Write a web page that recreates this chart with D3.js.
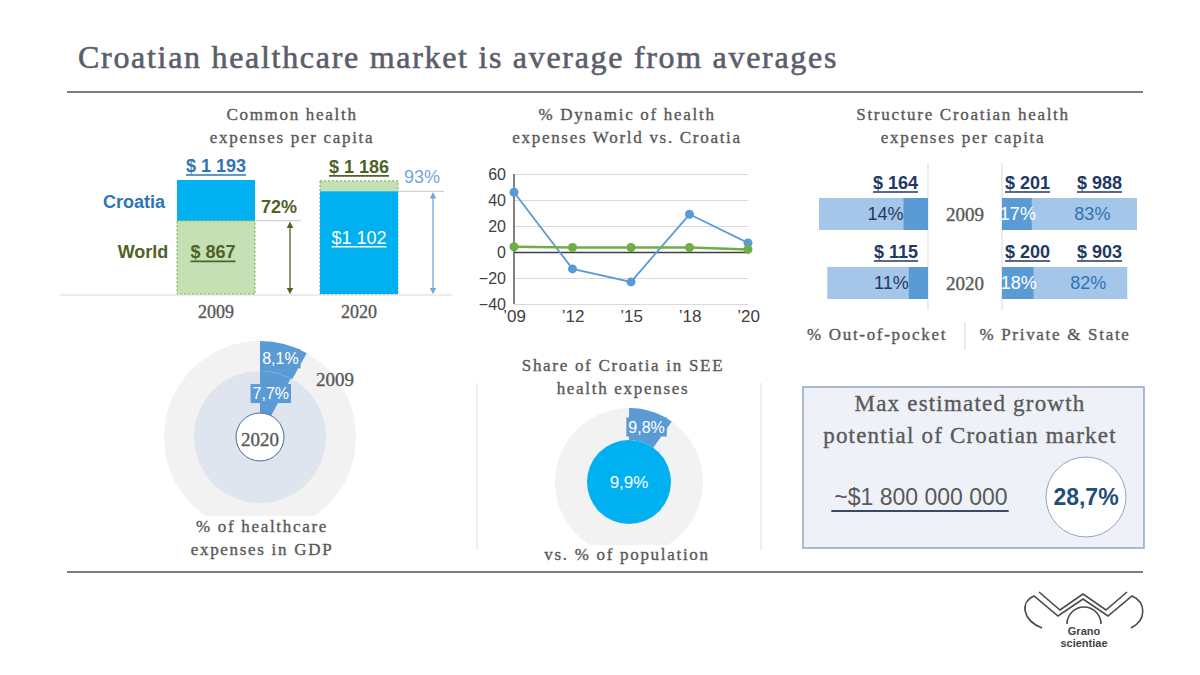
<!DOCTYPE html>
<html>
<head>
<meta charset="utf-8">
<script src="https://cdn.jsdelivr.net/npm/d3@7"></script>
<style>
  body { margin: 0; background: #fff; }
  svg { display: block; }
  .serif { font-family: "Liberation Serif", "DejaVu Serif", serif; fill: #595959; stroke: #595959; stroke-width: 0.35; }
  .sans { font-family: "Liberation Sans", Arial, sans-serif; }
</style>
</head>
<body>
<div class="chart"></div>
<script>
// ---- data ----
const barYears = ["2009", "2020"];
const croatiaPerCapita = [1193, 1102];
const worldPerCapita = [867, 1186];
const barRatioPct = [72, 93];

const dynTicks = ["\u201909", "\u201912", "\u201915", "\u201918", "\u201920"];
const croatiaDyn = [46, -13, -23, 29, 7];
const worldDyn = [4, 3.5, 3.5, 3.5, 2];

const structYears = ["2009", "2020"];
const outOfPocketUsd = [164, 115];
const outOfPocketPct = [14, 11];
const privateUsd = [201, 200];
const privatePct = [17, 18];
const stateUsd = [988, 903];
const statePct = [83, 82];

const gdpYears = ["2009", "2020"];
const gdpShare = [8.1, 7.7];

const seeHealthShare = 9.8;
const seePopShare = 9.9;

const growthUsd = 1800000000;
const growthPct = 28.7;

// ---- helpers ----
const W = 1200, H = 675;
const comma = v => d3.format(".1f")(v).replace(".", ",") + "%";
const spaced = v => d3.format(",")(v).replace(/,/g, " ");

const svg = d3.select(".chart").append("svg")
    .attr("width", W)
    .attr("height", H);

const defs = svg.append("defs");
function arrowMarker(id, color) {
    defs.append("marker")
        .attr("id", id)
        .attr("viewBox", "0 0 10 10")
        .attr("refX", 5).attr("refY", 5)
        .attr("markerWidth", 5).attr("markerHeight", 5)
        .attr("orient", "auto-start-reverse")
        .append("path")
        .attr("d", "M0,0L10,5L0,10z")
        .attr("fill", color);
}
arrowMarker("arrGreen", "#4f6228");
arrowMarker("arrBlue", "#6fa8dc");

function underline(sel, color, w) {
    sel.each(function() {
        const b = this.getBBox();
        d3.select(this.parentNode).append("line")
            .attr("x1", b.x).attr("x2", b.x + b.width)
            .attr("y1", +d3.select(this).attr("y") + 3)
            .attr("y2", +d3.select(this).attr("y") + 3)
            .attr("stroke", color)
            .attr("stroke-width", w || 1.6);
    });
}

function titleText(g, lines, x, y0, dy, size, spacing) {
    g.append("text")
        .attr("class", "serif")
        .attr("text-anchor", "middle")
        .attr("font-size", size)
        .attr("letter-spacing", spacing)
        .selectAll("tspan")
        .data(lines)
        .join("tspan")
        .attr("x", x)
        .attr("y", (d, i) => y0 + i * dy)
        .text(d => d);
}

// ---- header ----
svg.append("text")
    .attr("class", "serif")
    .attr("x", 78).attr("y", 68)
    .attr("font-size", 32)
    .attr("letter-spacing", 1.7)
    .style("fill", "#5a5e6b")
    .style("stroke", "#5a5e6b")
    .style("stroke-width", 0.6)
    .text("Croatian healthcare market is average from averages");

svg.append("line")
    .attr("x1", 67).attr("x2", 1143)
    .attr("y1", 92).attr("y2", 92)
    .attr("stroke", "#4d525e").attr("stroke-width", 1.6);

svg.append("line")
    .attr("x1", 67).attr("x2", 1143)
    .attr("y1", 572).attr("y2", 572)
    .attr("stroke", "#4d525e").attr("stroke-width", 1.6);

// ---- panel 1: per capita bars ----
const p1 = svg.append("g");
titleText(p1, ["Common health", "expenses per capita"], 292, 120, 23, 17, 1.7);

const bw = 78;
const xBar = d3.scalePoint().domain(barYears).range([216, 359]);
const yBar = d3.scaleLinear().domain([280, 1193]).range([294, 180]);

p1.append("line")
    .attr("x1", 60).attr("x2", 452)
    .attr("y1", yBar(280) + 1).attr("y2", yBar(280) + 1)
    .attr("stroke", "#d9d9d9");

const barRows = barYears.map((y, i) => ({
    year: y, croatia: croatiaPerCapita[i], world: worldPerCapita[i], pct: barRatioPct[i]
}));

const blueFill = "#00b0f0";
const greenFill = "#c5e0b4";
const darkGreen = "#4f6228";
const midBlue = "#2e75b6";

barRows.forEach((d, i) => {
    const x0 = xBar(d.year) - bw / 2;
    const big = d.croatia > d.world ? "croatia" : "world";
    const small = big === "croatia" ? "world" : "croatia";
    [big, small].forEach(k => {
        const rect = p1.append("rect")
            .attr("x", x0).attr("width", bw)
            .attr("y", yBar(d[k]))
            .attr("height", yBar(280) - yBar(d[k]));
        if (k === "croatia") rect.attr("fill", blueFill);
        else rect.attr("fill", greenFill).attr("stroke", "#70ad47")
            .attr("stroke-dasharray", "2,2").attr("stroke-width", 1);
    });

    // top label
    const topCol = big === "croatia" ? midBlue : darkGreen;
    const topLab = p1.append("text")
        .attr("class", "sans")
        .attr("x", xBar(d.year)).attr("y", yBar(d[big]) - 8)
        .attr("text-anchor", "middle")
        .attr("font-size", 18).attr("font-weight", "bold")
        .attr("fill", topCol)
        .text("$ " + spaced(d[big]));
    underline(topLab, topCol);

    // inner label
    const inCol = small === "croatia" ? "#fff" : darkGreen;
    const mid = (yBar(d[small]) + yBar(280)) / 2;
    const inLab = p1.append("text")
        .attr("class", "sans")
        .attr("x", xBar(d.year) - (small === "world" ? 3 : 0)).attr("y", mid + 1)
        .attr("text-anchor", "middle")
        .attr("font-size", 18).attr("font-weight", small === "world" ? "bold" : "normal")
        .attr("fill", inCol)
        .text(small === "world" ? "$ " + spaced(d[small]) : "$" + spaced(d[small]));
    underline(inLab, inCol);

    // ratio line, arrow, percent
    const col = i === 0 ? darkGreen : "#6fa8dc";
    const yr = yBar(d[small]);
    p1.append("line")
        .attr("x1", x0 + bw).attr("x2", x0 + bw + 46)
        .attr("y1", yr).attr("y2", yr)
        .attr("stroke", "#c8c8c8");
    p1.append("line")
        .attr("x1", x0 + bw + 35).attr("x2", x0 + bw + 35)
        .attr("y1", yr + 4).attr("y2", yBar(280) - 3)
        .attr("stroke", col).attr("stroke-width", 1.3)
        .attr("marker-start", i === 0 ? "url(#arrGreen)" : "url(#arrBlue)")
        .attr("marker-end", i === 0 ? "url(#arrGreen)" : "url(#arrBlue)");
    p1.append("text")
        .attr("class", "sans")
        .attr("x", x0 + bw + 24).attr("y", yr - 8)
        .attr("text-anchor", "middle")
        .attr("font-size", 18).attr("font-weight", i === 0 ? "bold" : "normal")
        .attr("fill", col)
        .text(d.pct + "%");
});

// legend-like labels
p1.append("text").attr("class", "sans")
    .attr("x", 134).attr("y", (yBar(croatiaPerCapita[0]) + yBar(worldPerCapita[0])) / 2 + 8)
    .attr("text-anchor", "middle").attr("font-size", 18).attr("font-weight", "bold")
    .attr("fill", midBlue).text("Croatia");
p1.append("text").attr("class", "sans")
    .attr("x", 143).attr("y", (yBar(worldPerCapita[0]) + yBar(280)) / 2 + 1)
    .attr("text-anchor", "middle").attr("font-size", 18).attr("font-weight", "bold")
    .attr("fill", darkGreen).text("World");

p1.selectAll(".yr")
    .data(barYears)
    .join("text")
    .attr("class", "serif yr")
    .attr("x", d => xBar(d)).attr("y", 318)
    .attr("text-anchor", "middle")
    .attr("font-size", 18)
    .text(d => d);

// ---- panel 2: dynamic line chart ----
const p2 = svg.append("g");
titleText(p2, ["% Dynamic of health", "expenses World vs. Croatia"], 627, 120, 23, 17, 1.7);

const xL = d3.scalePoint().domain(dynTicks).range([514, 748]);
const yL = d3.scaleLinear().domain([-40, 60]).range([304, 174]);

const yAxisL = d3.axisLeft(yL).tickValues([-40, -20, 0, 20, 40, 60]).tickSize(0).tickPadding(8);
p2.append("g")
    .attr("transform", "translate(514,0)")
    .call(yAxisL)
    .call(g => g.select(".domain").remove())
    .call(g => g.selectAll(".tick text")
        .attr("font-family", "Liberation Sans, Arial, sans-serif")
        .attr("font-size", 16).attr("fill", "#404040"))
    .call(g => g.selectAll(".tick line").clone()
        .attr("x2", 748 - 514)
        .attr("stroke", d => d === 0 ? "#404040" : "#d9d9d9")
        .attr("stroke-width", d => d === 0 ? 1.3 : 1));

p2.append("line")
    .attr("x1", 514).attr("x2", 514)
    .attr("y1", yL(60)).attr("y2", yL(-40))
    .attr("stroke", "#404040").attr("stroke-width", 1.3);

const xAxisL = d3.axisBottom(xL).tickSize(0).tickPadding(6);
p2.append("g")
    .attr("transform", `translate(0,${yL(-40)})`)
    .call(xAxisL)
    .call(g => g.select(".domain").remove())
    .call(g => g.selectAll(".tick text")
        .attr("font-family", "Liberation Sans, Arial, sans-serif")
        .attr("font-size", 17).attr("fill", "#404040"));

const lineGen = d3.line()
    .x((d, i) => xL(dynTicks[i]))
    .y(d => yL(d));

[[croatiaDyn, "#5b9bd5", 1.8], [worldDyn, "#70ad47", 2.5]].forEach(([vals, col, sw]) => {
    p2.append("path")
        .datum(vals)
        .attr("fill", "none")
        .attr("stroke", col)
        .attr("stroke-width", sw)
        .attr("d", lineGen);
    p2.append("g").selectAll("circle")
        .data(vals)
        .join("circle")
        .attr("cx", (d, i) => xL(dynTicks[i]))
        .attr("cy", d => yL(d))
        .attr("r", 4.5)
        .attr("fill", col);
});

// ---- panel 3: structure bars ----
const p3 = svg.append("g");
titleText(p3, ["Structure Croatian health", "expenses per capita"], 963, 120, 23, 17, 1.7);

const navy = "#1f3864";
const lightBar = "#a4c6e8";
const darkBar = "#5b9bd5";
const rowY = d3.scalePoint().domain(structYears).range([198, 267]);
const bh = 32;
const leftEdge = 928, rightEdge = 1002;
const xLeftTot = d3.scaleLinear().domain([0, 1193]).range([0, 109]);
const xRightTot = d3.scaleLinear().domain([0, 1189]).range([0, 135]);
const xShare = d3.scaleLinear().domain([0, 100]).range([0, 175]);

[leftEdge, rightEdge].forEach(x => {
    p3.append("line")
        .attr("x1", x).attr("x2", x)
        .attr("y1", 163).attr("y2", 310)
        .attr("stroke", "#d9d9d9");
});

structYears.forEach((yr, i) => {
    const y0 = rowY(yr);
    // left: out-of-pocket within total
    const lw = xLeftTot(croatiaPerCapita[i]);
    const ld = xShare(outOfPocketPct[i]);
    p3.append("rect").attr("x", leftEdge - lw).attr("y", y0).attr("width", lw).attr("height", bh).attr("fill", lightBar);
    p3.append("rect").attr("x", leftEdge - ld).attr("y", y0).attr("width", ld).attr("height", bh).attr("fill", darkBar);
    p3.append("text").attr("class", "sans")
        .attr("x", leftEdge - ld).attr("y", y0 + 22)
        .attr("text-anchor", "end").attr("font-size", 18).attr("fill", navy)
        .text(outOfPocketPct[i] + "%");
    const l1 = p3.append("text").attr("class", "sans")
        .attr("x", leftEdge - 10).attr("y", y0 - 9)
        .attr("text-anchor", "end").attr("font-size", 18).attr("font-weight", "bold").attr("fill", navy)
        .text("$ " + outOfPocketUsd[i]);
    underline(l1, navy);

    // right: private + state
    const rw = xRightTot(privateUsd[i] + stateUsd[i]);
    const rd = xShare(privatePct[i]);
    p3.append("rect").attr("x", rightEdge).attr("y", y0).attr("width", rw).attr("height", bh).attr("fill", lightBar);
    p3.append("rect").attr("x", rightEdge).attr("y", y0).attr("width", rd).attr("height", bh).attr("fill", darkBar);
    p3.append("text").attr("class", "sans")
        .attr("x", rightEdge + rd / 2 + 1).attr("y", y0 + 22)
        .attr("text-anchor", "middle").attr("font-size", 18).attr("fill", "#fff")
        .text(privatePct[i] + "%");
    p3.append("text").attr("class", "sans")
        .attr("x", rightEdge + (rd + rw) / 2 + 8).attr("y", y0 + 22)
        .attr("text-anchor", "middle").attr("font-size", 18).attr("fill", midBlue)
        .text(statePct[i] + "%");
    const r1 = p3.append("text").attr("class", "sans")
        .attr("x", rightEdge + 3).attr("y", y0 - 9)
        .attr("font-size", 18).attr("font-weight", "bold").attr("fill", navy)
        .text("$ " + privateUsd[i]);
    underline(r1, navy);
    const r2 = p3.append("text").attr("class", "sans")
        .attr("x", 1122).attr("y", y0 - 9)
        .attr("text-anchor", "end").attr("font-size", 18).attr("font-weight", "bold").attr("fill", navy)
        .text("$ " + stateUsd[i]);
    underline(r2, navy);

    p3.append("text").attr("class", "serif")
        .attr("x", 965).attr("y", y0 + 23)
        .attr("text-anchor", "middle").attr("font-size", 19)
        .text(yr);
});

p3.append("line").attr("x1", 965).attr("x2", 965).attr("y1", 322).attr("y2", 350).attr("stroke", "#d9d9d9");
p3.append("text").attr("class", "serif").attr("x", 877).attr("y", 340)
    .attr("text-anchor", "middle").attr("font-size", 17).attr("letter-spacing", 1.7)
    .text("% Out-of-pocket");
p3.append("text").attr("class", "serif").attr("x", 1055).attr("y", 340)
    .attr("text-anchor", "middle").attr("font-size", 17).attr("letter-spacing", 1.7)
    .text("% Private & State");

// ---- panel 4: GDP share donut ----
const p4 = svg.append("g").attr("transform", "translate(260,437)");
const rOut = 96, rMid = 66, rIn = 24;
const tau = 2 * Math.PI;
const share = d3.scaleLinear().domain([0, 100]).range([0, tau]);

p4.append("circle").attr("r", rOut).attr("fill", "#f2f2f2");
p4.append("circle").attr("r", rMid).attr("fill", "#dfe5ef");

const gdpRings = gdpYears.map((y, i) => ({
    year: y, v: gdpShare[i],
    inner: i === 0 ? rMid : rIn,
    outer: i === 0 ? rOut : rMid
}));
const gdpArc = d3.arc()
    .innerRadius(d => d.inner)
    .outerRadius(d => d.outer)
    .startAngle(0)
    .endAngle(d => share(d.v));

p4.selectAll("path.w")
    .data(gdpRings)
    .join("path")
    .attr("class", "w")
    .attr("d", gdpArc)
    .attr("fill", darkBar);

p4.append("circle").attr("r", rIn).attr("fill", "#fff").attr("stroke", "#4a6b9a").attr("stroke-width", 1);
p4.append("text").attr("class", "serif").attr("y", 9)
    .attr("text-anchor", "middle").attr("font-size", 19).text(gdpYears[1]);
p4.append("text").attr("class", "serif").attr("x", 75).attr("y", -51)
    .attr("text-anchor", "middle").attr("font-size", 19).text(gdpYears[0]);

function boxedLabel(g, pos, txt, size) {
    const t = g.append("text").attr("class", "sans")
        .attr("x", pos[0]).attr("y", pos[1] + size * 0.36)
        .attr("text-anchor", "middle")
        .attr("font-size", size)
        .attr("fill", "#fff")
        .text(txt);
    const b = t.node().getBBox();
    g.insert("rect", () => t.node())
        .attr("x", b.x - 2).attr("y", b.y - 1).attr("width", b.width + 4).attr("height", b.height + 2)
        .attr("fill", darkBar);
}
gdpRings.forEach(d => boxedLabel(p4, gdpArc.centroid(d), comma(d.v), 16));

const p4lab = svg.append("g");
p4lab.append("rect").attr("x", 150).attr("y", 516).attr("width", 230).attr("height", 48).attr("fill", "#fff");
titleText(p4lab, ["% of healthcare", "expenses in GDP"], 262, 532, 23, 17, 1.7);

// ---- panel 5: SEE share donut ----
const p5 = svg.append("g").attr("transform", "translate(629,482)");
titleText(svg, ["Share of Croatia in SEE", "health expenses"], 623, 371, 23, 17, 1.7);
[477, 761].forEach(x => {
    svg.append("line").attr("x1", x).attr("x2", x).attr("y1", 383).attr("y2", 550).attr("stroke", "#e0e0e0");
});
p5.append("circle").attr("r", 74).attr("fill", "#f2f2f2");
const seeArc = d3.arc().innerRadius(42).outerRadius(74).startAngle(0).endAngle(share(seeHealthShare));
p5.append("path").attr("d", seeArc()).attr("fill", darkBar);
boxedLabel(p5, seeArc.centroid(), comma(seeHealthShare), 16);
p5.append("circle").attr("r", 42).attr("fill", blueFill);
p5.append("text").attr("class", "sans").attr("y", 6)
    .attr("text-anchor", "middle").attr("font-size", 17).attr("fill", "#fff")
    .text(comma(seePopShare));
svg.append("rect").attr("x", 530).attr("y", 545).attr("width", 200).attr("height", 24).attr("fill", "#fff");
titleText(svg, ["vs. % of population"], 627, 560, 23, 17, 1.7);

// ---- panel 6: growth potential box ----
const p6 = svg.append("g");
p6.append("rect")
    .attr("x", 803).attr("y", 387).attr("width", 341).attr("height", 161)
    .attr("fill", "#eef2f8").attr("stroke", "#8fa6c3").attr("stroke-width", 1.5);
titleText(p6, ["Max estimated growth", "potential of Croatian market"], 970, 411, 32, 23, 1.2);
const gTxt = p6.append("text").attr("class", "sans")
    .attr("x", 921).attr("y", 505)
    .attr("text-anchor", "middle").attr("font-size", 23).attr("fill", "#595959")
    .text("~$" + spaced(growthUsd));
gTxt.each(function() {
    const b = this.getBBox();
    p6.append("line").attr("x1", b.x - 3).attr("x2", b.x + b.width + 1)
        .attr("y1", 511).attr("y2", 511)
        .attr("stroke", "#3b4a63").attr("stroke-width", 2);
});
p6.append("circle").attr("cx", 1086).attr("cy", 497).attr("r", 40)
    .attr("fill", "#fff").attr("stroke", "#8fa6c3").attr("stroke-width", 1);
p6.append("text").attr("class", "sans")
    .attr("x", 1086).attr("y", 505)
    .attr("text-anchor", "middle").attr("font-size", 23).attr("font-weight", "bold")
    .attr("fill", "#1f4e79")
    .text(comma(growthPct));

// ---- logo ----
const logo = svg.append("g").attr("fill", "none").attr("stroke", "#4a4a4a").attr("stroke-width", 1.6);
logo.append("path").attr("d", "M1042,628 C1022,620 1020,602 1034,596 L1058,616 L1083,599 L1108,616 L1132,596 C1146,602 1147,620 1131,628");
logo.append("path").attr("d", "M1039,592 L1060,610 L1083,594 L1106,610 L1127,592");
logo.append("path").attr("d", "M1067,624 A17,17 0 0 1 1101,624");
svg.append("text").attr("class", "sans")
    .attr("x", 1084).attr("y", 635)
    .attr("text-anchor", "middle").attr("font-size", 11).attr("font-weight", "bold")
    .attr("fill", "#444").text("Grano");
svg.append("text").attr("class", "sans")
    .attr("x", 1084).attr("y", 647)
    .attr("text-anchor", "middle").attr("font-size", 11).attr("font-weight", "bold")
    .attr("fill", "#444").text("scientiae");
</script>
</body>
</html>
